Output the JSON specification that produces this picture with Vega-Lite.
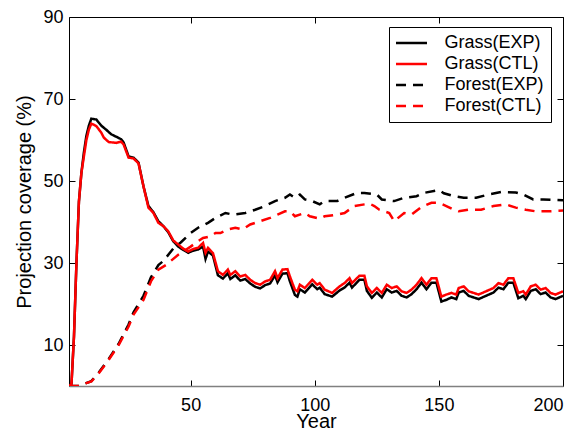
{
  "$schema": "https://vega.github.io/schema/vega-lite/v6.json",
  "width": 494,
  "height": 369,
  "autosize": {"type": "none"},
  "padding": {"left": 69, "top": 17, "right": 17, "bottom": 46},
  "background": "white",
  "config": {
    "font": "Liberation Sans",
    "view": {"stroke": "black", "strokeWidth": 1},
    "axis": {"grid": false, "labelFontSize": 18, "titleFontSize": 20, "labelColor": "black", "titleColor": "black", "titleFontWeight": "normal", "tickColor": "black", "tickWidth": 1, "labelFont": "Liberation Sans", "titleFont": "Liberation Sans"}
  },
  "datasets": {
    "d": [
      {"s":"Grass(EXP)","x":1,"v":0},{"s":"Grass(EXP)","x":2,"v":0.5},{"s":"Grass(EXP)","x":3,"v":12},{"s":"Grass(EXP)","x":4,"v":30},{"s":"Grass(EXP)","x":5,"v":45},{"s":"Grass(EXP)","x":6,"v":52},{"s":"Grass(EXP)","x":7,"v":57},{"s":"Grass(EXP)","x":8,"v":61},{"s":"Grass(EXP)","x":9,"v":63.5},{"s":"Grass(EXP)","x":10,"v":65.2},{"s":"Grass(EXP)","x":12,"v":65},{"s":"Grass(EXP)","x":14,"v":63.5},{"s":"Grass(EXP)","x":16,"v":62.5},{"s":"Grass(EXP)","x":18,"v":61.4},{"s":"Grass(EXP)","x":20,"v":60.8},{"s":"Grass(EXP)","x":22,"v":60.2},{"s":"Grass(EXP)","x":23,"v":59.4},{"s":"Grass(EXP)","x":25,"v":56},{"s":"Grass(EXP)","x":27,"v":55.7},{"s":"Grass(EXP)","x":29,"v":54.5},{"s":"Grass(EXP)","x":31,"v":48.7},{"s":"Grass(EXP)","x":33,"v":43.9},{"s":"Grass(EXP)","x":35,"v":42.4},{"s":"Grass(EXP)","x":37,"v":40.2},{"s":"Grass(EXP)","x":39,"v":39},{"s":"Grass(EXP)","x":41,"v":37.5},{"s":"Grass(EXP)","x":43,"v":35.3},{"s":"Grass(EXP)","x":45,"v":34},{"s":"Grass(EXP)","x":47,"v":33.2},{"s":"Grass(EXP)","x":49,"v":32.5},{"s":"Grass(EXP)","x":51,"v":33},{"s":"Grass(EXP)","x":53,"v":33.3},{"s":"Grass(EXP)","x":55,"v":34},{"s":"Grass(EXP)","x":56,"v":31},{"s":"Grass(EXP)","x":57,"v":32.8},{"s":"Grass(EXP)","x":59,"v":31.8},{"s":"Grass(EXP)","x":61,"v":27},{"s":"Grass(EXP)","x":63,"v":26.2},{"s":"Grass(EXP)","x":65,"v":27.5},{"s":"Grass(EXP)","x":66,"v":26.1},{"s":"Grass(EXP)","x":68,"v":27},{"s":"Grass(EXP)","x":70,"v":25.7},{"s":"Grass(EXP)","x":72,"v":26.1},{"s":"Grass(EXP)","x":74,"v":25},{"s":"Grass(EXP)","x":76,"v":24.2},{"s":"Grass(EXP)","x":78,"v":23.8},{"s":"Grass(EXP)","x":80,"v":24.6},{"s":"Grass(EXP)","x":82,"v":25},{"s":"Grass(EXP)","x":84,"v":27},{"s":"Grass(EXP)","x":85,"v":25.3},{"s":"Grass(EXP)","x":87,"v":27.4},{"s":"Grass(EXP)","x":89,"v":27.5},{"s":"Grass(EXP)","x":90,"v":25.5},{"s":"Grass(EXP)","x":92,"v":22.2},{"s":"Grass(EXP)","x":93,"v":21.8},{"s":"Grass(EXP)","x":94,"v":23.6},{"s":"Grass(EXP)","x":96,"v":22.8},{"s":"Grass(EXP)","x":99,"v":24.8},{"s":"Grass(EXP)","x":101,"v":23.6},{"s":"Grass(EXP)","x":102,"v":24},{"s":"Grass(EXP)","x":104,"v":22.4},{"s":"Grass(EXP)","x":107,"v":21.8},{"s":"Grass(EXP)","x":110,"v":23.3},{"s":"Grass(EXP)","x":112,"v":24},{"s":"Grass(EXP)","x":114,"v":25.2},{"s":"Grass(EXP)","x":115,"v":24},{"s":"Grass(EXP)","x":118,"v":25.9},{"s":"Grass(EXP)","x":120,"v":25.9},{"s":"Grass(EXP)","x":121,"v":23.2},{"s":"Grass(EXP)","x":123,"v":21.5},{"s":"Grass(EXP)","x":125,"v":22.8},{"s":"Grass(EXP)","x":127,"v":21.6},{"s":"Grass(EXP)","x":129,"v":23.6},{"s":"Grass(EXP)","x":131,"v":22.8},{"s":"Grass(EXP)","x":133,"v":23.2},{"s":"Grass(EXP)","x":135,"v":22},{"s":"Grass(EXP)","x":137,"v":21.6},{"s":"Grass(EXP)","x":139,"v":22.4},{"s":"Grass(EXP)","x":141,"v":23.6},{"s":"Grass(EXP)","x":143,"v":25.2},{"s":"Grass(EXP)","x":145,"v":23.6},{"s":"Grass(EXP)","x":147,"v":25.2},{"s":"Grass(EXP)","x":149,"v":25.2},{"s":"Grass(EXP)","x":151,"v":20.6},{"s":"Grass(EXP)","x":153,"v":21},{"s":"Grass(EXP)","x":155,"v":21.6},{"s":"Grass(EXP)","x":157,"v":21.2},{"s":"Grass(EXP)","x":158,"v":22.8},{"s":"Grass(EXP)","x":160,"v":23.2},{"s":"Grass(EXP)","x":162,"v":22},{"s":"Grass(EXP)","x":164,"v":21.6},{"s":"Grass(EXP)","x":166,"v":21.2},{"s":"Grass(EXP)","x":169,"v":22},{"s":"Grass(EXP)","x":172,"v":22.8},{"s":"Grass(EXP)","x":174,"v":24},{"s":"Grass(EXP)","x":176,"v":23.6},{"s":"Grass(EXP)","x":178,"v":25.2},{"s":"Grass(EXP)","x":180,"v":25.2},{"s":"Grass(EXP)","x":182,"v":21.4},{"s":"Grass(EXP)","x":184,"v":22},{"s":"Grass(EXP)","x":185,"v":21.2},{"s":"Grass(EXP)","x":187,"v":23.2},{"s":"Grass(EXP)","x":189,"v":23.6},{"s":"Grass(EXP)","x":191,"v":22.4},{"s":"Grass(EXP)","x":193,"v":22.8},{"s":"Grass(EXP)","x":195,"v":21.6},{"s":"Grass(EXP)","x":197,"v":21.2},{"s":"Grass(EXP)","x":200,"v":22},

      {"s":"Forest(EXP)","x":1,"v":0},{"s":"Forest(EXP)","x":5,"v":0},{"s":"Forest(EXP)","x":7,"v":0.5},{"s":"Forest(EXP)","x":10,"v":1.2},{"s":"Forest(EXP)","x":13,"v":3.3},{"s":"Forest(EXP)","x":17,"v":6.6},{"s":"Forest(EXP)","x":21,"v":10.3},{"s":"Forest(EXP)","x":25,"v":15},{"s":"Forest(EXP)","x":27,"v":18},{"s":"Forest(EXP)","x":31,"v":22},{"s":"Forest(EXP)","x":34,"v":26.5},{"s":"Forest(EXP)","x":37,"v":29.5},{"s":"Forest(EXP)","x":39,"v":30.5},{"s":"Forest(EXP)","x":43,"v":33.5},{"s":"Forest(EXP)","x":46,"v":35},{"s":"Forest(EXP)","x":50,"v":37.3},{"s":"Forest(EXP)","x":53,"v":38.6},{"s":"Forest(EXP)","x":57,"v":39.8},{"s":"Forest(EXP)","x":60,"v":41},{"s":"Forest(EXP)","x":64,"v":42.2},{"s":"Forest(EXP)","x":67,"v":41.8},{"s":"Forest(EXP)","x":72,"v":42.2},{"s":"Forest(EXP)","x":76,"v":43},{"s":"Forest(EXP)","x":80,"v":43.9},{"s":"Forest(EXP)","x":84,"v":45.1},{"s":"Forest(EXP)","x":88,"v":45.9},{"s":"Forest(EXP)","x":90,"v":46.7},{"s":"Forest(EXP)","x":92,"v":45.9},{"s":"Forest(EXP)","x":94,"v":46.7},{"s":"Forest(EXP)","x":96,"v":45.5},{"s":"Forest(EXP)","x":99,"v":45.1},{"s":"Forest(EXP)","x":102,"v":44.3},{"s":"Forest(EXP)","x":104,"v":45.1},{"s":"Forest(EXP)","x":109,"v":45.1},{"s":"Forest(EXP)","x":112,"v":45.9},{"s":"Forest(EXP)","x":117,"v":47.1},{"s":"Forest(EXP)","x":120,"v":47.1},{"s":"Forest(EXP)","x":125,"v":46.7},{"s":"Forest(EXP)","x":127,"v":45.5},{"s":"Forest(EXP)","x":132,"v":45.1},{"s":"Forest(EXP)","x":136,"v":45.9},{"s":"Forest(EXP)","x":141,"v":46.3},{"s":"Forest(EXP)","x":144,"v":47.1},{"s":"Forest(EXP)","x":150,"v":47.8},{"s":"Forest(EXP)","x":152,"v":47},{"s":"Forest(EXP)","x":156,"v":46.3},{"s":"Forest(EXP)","x":160,"v":45.9},{"s":"Forest(EXP)","x":165,"v":45.9},{"s":"Forest(EXP)","x":170,"v":46.7},{"s":"Forest(EXP)","x":175,"v":47.3},{"s":"Forest(EXP)","x":181,"v":47.2},{"s":"Forest(EXP)","x":184,"v":46.7},{"s":"Forest(EXP)","x":188,"v":45.5},{"s":"Forest(EXP)","x":192,"v":45.5},{"s":"Forest(EXP)","x":200,"v":45.3},

      {"s":"Grass(CTL)","x":1,"v":0},{"s":"Grass(CTL)","x":2,"v":0.5},{"s":"Grass(CTL)","x":3,"v":12},{"s":"Grass(CTL)","x":4,"v":30},{"s":"Grass(CTL)","x":5,"v":45},{"s":"Grass(CTL)","x":6,"v":52},{"s":"Grass(CTL)","x":7,"v":56},{"s":"Grass(CTL)","x":8,"v":60},{"s":"Grass(CTL)","x":9,"v":62.5},{"s":"Grass(CTL)","x":10,"v":64},{"s":"Grass(CTL)","x":12,"v":63.4},{"s":"Grass(CTL)","x":14,"v":61.8},{"s":"Grass(CTL)","x":15,"v":60.6},{"s":"Grass(CTL)","x":17,"v":59.5},{"s":"Grass(CTL)","x":20,"v":59.3},{"s":"Grass(CTL)","x":22,"v":59.6},{"s":"Grass(CTL)","x":23,"v":58.9},{"s":"Grass(CTL)","x":25,"v":55.7},{"s":"Grass(CTL)","x":27,"v":55.5},{"s":"Grass(CTL)","x":29,"v":54.3},{"s":"Grass(CTL)","x":31,"v":48.7},{"s":"Grass(CTL)","x":33,"v":43.5},{"s":"Grass(CTL)","x":35,"v":42.2},{"s":"Grass(CTL)","x":37,"v":39.8},{"s":"Grass(CTL)","x":39,"v":39},{"s":"Grass(CTL)","x":41,"v":37.7},{"s":"Grass(CTL)","x":43,"v":35.5},{"s":"Grass(CTL)","x":45,"v":34.5},{"s":"Grass(CTL)","x":47,"v":33.5},{"s":"Grass(CTL)","x":49,"v":32.8},{"s":"Grass(CTL)","x":51,"v":33.4},{"s":"Grass(CTL)","x":53,"v":33.7},{"s":"Grass(CTL)","x":55,"v":34.9},{"s":"Grass(CTL)","x":56,"v":32.5},{"s":"Grass(CTL)","x":57,"v":33.7},{"s":"Grass(CTL)","x":59,"v":32.4},{"s":"Grass(CTL)","x":61,"v":28},{"s":"Grass(CTL)","x":63,"v":27.1},{"s":"Grass(CTL)","x":65,"v":28.4},{"s":"Grass(CTL)","x":66,"v":27.1},{"s":"Grass(CTL)","x":68,"v":28},{"s":"Grass(CTL)","x":70,"v":26.7},{"s":"Grass(CTL)","x":72,"v":27.1},{"s":"Grass(CTL)","x":74,"v":25.9},{"s":"Grass(CTL)","x":76,"v":25.1},{"s":"Grass(CTL)","x":78,"v":24.7},{"s":"Grass(CTL)","x":80,"v":25.5},{"s":"Grass(CTL)","x":82,"v":25.9},{"s":"Grass(CTL)","x":84,"v":28},{"s":"Grass(CTL)","x":85,"v":26.3},{"s":"Grass(CTL)","x":87,"v":28.4},{"s":"Grass(CTL)","x":89,"v":28.5},{"s":"Grass(CTL)","x":90,"v":26.7},{"s":"Grass(CTL)","x":92,"v":23.5},{"s":"Grass(CTL)","x":93,"v":23.1},{"s":"Grass(CTL)","x":94,"v":24.7},{"s":"Grass(CTL)","x":96,"v":23.9},{"s":"Grass(CTL)","x":99,"v":25.9},{"s":"Grass(CTL)","x":101,"v":24.7},{"s":"Grass(CTL)","x":102,"v":25.1},{"s":"Grass(CTL)","x":104,"v":23.5},{"s":"Grass(CTL)","x":107,"v":22.7},{"s":"Grass(CTL)","x":110,"v":24.3},{"s":"Grass(CTL)","x":112,"v":25.1},{"s":"Grass(CTL)","x":114,"v":26.3},{"s":"Grass(CTL)","x":115,"v":25.1},{"s":"Grass(CTL)","x":118,"v":26.9},{"s":"Grass(CTL)","x":120,"v":26.9},{"s":"Grass(CTL)","x":121,"v":24.3},{"s":"Grass(CTL)","x":123,"v":22.7},{"s":"Grass(CTL)","x":125,"v":23.9},{"s":"Grass(CTL)","x":127,"v":22.7},{"s":"Grass(CTL)","x":129,"v":24.7},{"s":"Grass(CTL)","x":131,"v":23.9},{"s":"Grass(CTL)","x":133,"v":24.3},{"s":"Grass(CTL)","x":135,"v":23.1},{"s":"Grass(CTL)","x":137,"v":22.7},{"s":"Grass(CTL)","x":139,"v":23.5},{"s":"Grass(CTL)","x":141,"v":24.7},{"s":"Grass(CTL)","x":143,"v":26.3},{"s":"Grass(CTL)","x":145,"v":24.7},{"s":"Grass(CTL)","x":147,"v":26.3},{"s":"Grass(CTL)","x":149,"v":26.3},{"s":"Grass(CTL)","x":151,"v":21.8},{"s":"Grass(CTL)","x":153,"v":22.3},{"s":"Grass(CTL)","x":155,"v":22.7},{"s":"Grass(CTL)","x":157,"v":22.3},{"s":"Grass(CTL)","x":158,"v":23.9},{"s":"Grass(CTL)","x":160,"v":24.3},{"s":"Grass(CTL)","x":162,"v":23.1},{"s":"Grass(CTL)","x":164,"v":22.7},{"s":"Grass(CTL)","x":166,"v":22.3},{"s":"Grass(CTL)","x":169,"v":23.1},{"s":"Grass(CTL)","x":172,"v":23.9},{"s":"Grass(CTL)","x":174,"v":25.1},{"s":"Grass(CTL)","x":176,"v":24.7},{"s":"Grass(CTL)","x":178,"v":26.3},{"s":"Grass(CTL)","x":180,"v":26.3},{"s":"Grass(CTL)","x":182,"v":22.7},{"s":"Grass(CTL)","x":184,"v":23.1},{"s":"Grass(CTL)","x":185,"v":22.3},{"s":"Grass(CTL)","x":187,"v":24.3},{"s":"Grass(CTL)","x":189,"v":24.7},{"s":"Grass(CTL)","x":191,"v":23.5},{"s":"Grass(CTL)","x":193,"v":23.9},{"s":"Grass(CTL)","x":195,"v":22.7},{"s":"Grass(CTL)","x":197,"v":22.3},{"s":"Grass(CTL)","x":200,"v":23.1},

      {"s":"Forest(CTL)","x":1,"v":0},{"s":"Forest(CTL)","x":5,"v":0},{"s":"Forest(CTL)","x":7,"v":0.5},{"s":"Forest(CTL)","x":10,"v":1.1},{"s":"Forest(CTL)","x":13,"v":3.1},{"s":"Forest(CTL)","x":17,"v":6.4},{"s":"Forest(CTL)","x":21,"v":10},{"s":"Forest(CTL)","x":25,"v":14.5},{"s":"Forest(CTL)","x":27,"v":17.4},{"s":"Forest(CTL)","x":31,"v":21},{"s":"Forest(CTL)","x":34,"v":25.5},{"s":"Forest(CTL)","x":37,"v":28.4},{"s":"Forest(CTL)","x":40,"v":29.5},{"s":"Forest(CTL)","x":42,"v":30.5},{"s":"Forest(CTL)","x":45,"v":32},{"s":"Forest(CTL)","x":50,"v":34},{"s":"Forest(CTL)","x":53,"v":35.3},{"s":"Forest(CTL)","x":55,"v":36.1},{"s":"Forest(CTL)","x":58,"v":36.5},{"s":"Forest(CTL)","x":60,"v":37.3},{"s":"Forest(CTL)","x":62,"v":37.3},{"s":"Forest(CTL)","x":65,"v":38.2},{"s":"Forest(CTL)","x":68,"v":38.6},{"s":"Forest(CTL)","x":71,"v":38.2},{"s":"Forest(CTL)","x":74,"v":39.4},{"s":"Forest(CTL)","x":78,"v":40.2},{"s":"Forest(CTL)","x":82,"v":41},{"s":"Forest(CTL)","x":85,"v":41.8},{"s":"Forest(CTL)","x":88,"v":42.6},{"s":"Forest(CTL)","x":90,"v":42.6},{"s":"Forest(CTL)","x":92,"v":41.4},{"s":"Forest(CTL)","x":96,"v":42.2},{"s":"Forest(CTL)","x":98,"v":41.4},{"s":"Forest(CTL)","x":102,"v":40.8},{"s":"Forest(CTL)","x":104,"v":41.4},{"s":"Forest(CTL)","x":109,"v":41.8},{"s":"Forest(CTL)","x":112,"v":42.2},{"s":"Forest(CTL)","x":116,"v":43.9},{"s":"Forest(CTL)","x":120,"v":44.3},{"s":"Forest(CTL)","x":122,"v":44.5},{"s":"Forest(CTL)","x":124,"v":43.9},{"s":"Forest(CTL)","x":126,"v":43},{"s":"Forest(CTL)","x":130,"v":42.2},{"s":"Forest(CTL)","x":132,"v":40.2},{"s":"Forest(CTL)","x":136,"v":42.2},{"s":"Forest(CTL)","x":139,"v":41.8},{"s":"Forest(CTL)","x":143,"v":43.7},{"s":"Forest(CTL)","x":147,"v":44.7},{"s":"Forest(CTL)","x":150,"v":44.7},{"s":"Forest(CTL)","x":153,"v":43.9},{"s":"Forest(CTL)","x":156,"v":43},{"s":"Forest(CTL)","x":158,"v":42.6},{"s":"Forest(CTL)","x":162,"v":43},{"s":"Forest(CTL)","x":167,"v":43},{"s":"Forest(CTL)","x":172,"v":43.9},{"s":"Forest(CTL)","x":177,"v":44.3},{"s":"Forest(CTL)","x":181,"v":43.5},{"s":"Forest(CTL)","x":185,"v":43},{"s":"Forest(CTL)","x":189,"v":42.6},{"s":"Forest(CTL)","x":194,"v":42.6},{"s":"Forest(CTL)","x":200,"v":42.8}
    ]
  },
  "data": {"name": "d"},
  "layer": [
    {
      "mark": {"type": "line", "strokeWidth": 2.5, "clip": true},
      "encoding": {
        "x": {"field": "x", "type": "quantitative", "scale": {"domain": [1, 200], "nice": false, "zero": false},
              "axis": {"values": [50, 100, 150, 200], "tickSize": -6, "labelPadding": 16, "title": "Year", "titlePadding": -3, "domain": true, "domainColor": "#808080", "domainWidth": 1.5}},
        "y": {"field": "v", "type": "quantitative", "scale": {"domain": [0, 90], "nice": false},
              "axis": {"values": [10, 30, 50, 70, 90], "tickSize": -6, "labelPadding": 12, "title": "Projection coverage (%)", "titlePadding": 8, "domain": false}},
        "color": {"field": "s", "type": "nominal",
                  "scale": {"domain": ["Grass(EXP)", "Grass(CTL)", "Forest(EXP)", "Forest(CTL)"], "range": ["#000000", "#ff0000", "#000000", "#ff0000"]},
                  "legend": {"title": null, "orient": "none", "legendX": 320, "legendY": 10, "direction": "vertical",
                             "symbolType": "M-2,0L2,0", "symbolSize": 240, "symbolStrokeWidth": 2.5, "symbolOffset": 6.5,
                             "labelOffset": 24, "labelFontSize": 18, "labelFont": "Liberation Sans", "labelColor": "black",
                             "padding": 7, "rowPadding": 3, "strokeColor": "black", "fillColor": "white", "cornerRadius": 0}},
        "strokeDash": {"field": "s", "type": "nominal",
                       "scale": {"domain": ["Grass(EXP)", "Grass(CTL)", "Forest(EXP)", "Forest(CTL)"], "range": [[1, 0], [1, 0], [10, 7], [10, 7]]},
                       "legend": {"title": null}}
      }
    },
    {
      "mark": {"type": "point", "opacity": 0},
      "encoding": {
        "x": {"field": "x", "type": "quantitative", "axis": {"orient": "top", "values": [50, 100, 150, 200], "tickSize": -6, "labels": false, "title": null, "domain": false}},
        "y": {"field": "v", "type": "quantitative", "axis": {"orient": "right", "values": [10, 30, 50, 70, 90], "tickSize": -6, "labels": false, "title": null, "domain": false}}
      }
    }
  ],
  "resolve": {"axis": {"x": "independent", "y": "independent"}}
}
